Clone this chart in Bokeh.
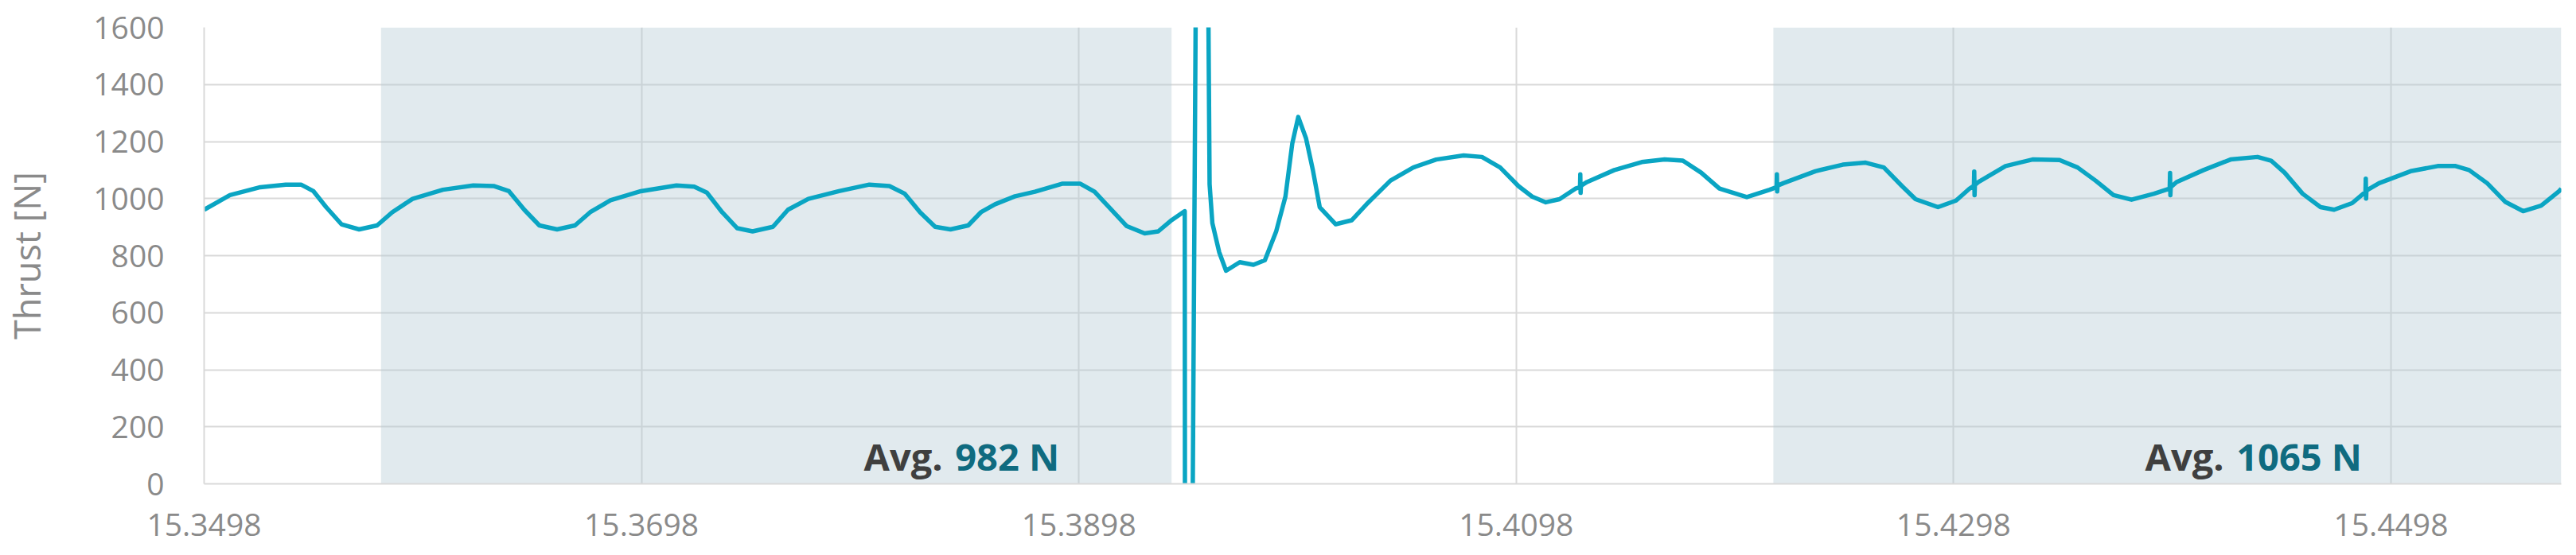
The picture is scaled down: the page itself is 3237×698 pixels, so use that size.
import math
from bokeh.plotting import figure
from bokeh.models import FixedTicker, PrintfTickFormatter, Range1d
from bokeh.core.properties import value
from bokeh.embed import file_html
from bokeh.resources import INLINE

# ---- data ----
time_s = [
    15.34980, 15.35098, 15.35237, 15.35353, 15.35423, 15.35480, 15.35538, 15.35608, 15.35689, 15.35771,
    15.35840, 15.35933, 15.36072, 15.36211, 15.36304, 15.36374, 15.36444, 15.36513, 15.36594, 15.36676,
    15.36745, 15.36838, 15.36977, 15.37140, 15.37221, 15.37279, 15.37349, 15.37418, 15.37488, 15.37581,
    15.37650, 15.37743, 15.37883, 15.38022, 15.38114, 15.38184, 15.38254, 15.38323, 15.38393, 15.38474,
    15.38532, 15.38597, 15.38688, 15.38779, 15.38903, 15.38987, 15.39052, 15.39114, 15.39198, 15.39281,
    15.39343, 15.39405, 15.394643, 15.394669, 15.394851, 15.395251, 15.395600, 15.395779, 15.395906, 15.396219,
    15.396532, 15.397158, 15.397784, 15.398308, 15.398828, 15.399247, 15.399560, 15.399833, 15.400186, 15.400502,
    15.400815, 15.401547, 15.402275, 15.403006, 15.404050, 15.405095, 15.406143, 15.407395, 15.408232, 15.409065,
    15.409902, 15.410528, 15.411154, 15.411780, 15.412511, 15.412718, 15.412730, 15.412745, 15.412760, 15.413035,
    15.414287, 15.415542, 15.416587, 15.417420, 15.418257, 15.419094, 15.420346, 15.421390, 15.421707, 15.421720,
    15.421735, 15.421750, 15.422016, 15.423479, 15.424734, 15.425779, 15.426612, 15.427442, 15.428061, 15.429087,
    15.429913, 15.430528, 15.430732, 15.430745, 15.430760, 15.430775, 15.430939, 15.432176, 15.433410, 15.434647,
    15.435470, 15.436292, 15.437114, 15.437937, 15.438967, 15.439684, 15.439700, 15.439715, 15.439730, 15.439997,
    15.441234, 15.442468, 15.443701, 15.444320, 15.444938, 15.445761, 15.446583, 15.447202, 15.448024, 15.448537,
    15.448636, 15.448650, 15.448665, 15.448680, 15.449258, 15.450699, 15.451936, 15.452759, 15.453374, 15.454200,
    15.455022, 15.455845, 15.456667, 15.457493, 15.457590,
]
thrust_n = [
    961, 1012, 1040, 1049, 1049, 1026, 970, 910, 892, 906,
    952, 999, 1031, 1046, 1044, 1026, 961, 906, 892, 906,
    952, 994, 1026, 1046, 1042, 1021, 952, 896, 885, 901,
    961, 999, 1026, 1049, 1044, 1017, 952, 901, 892, 906,
    952, 980, 1008, 1024, 1052, 1052, 1024, 973, 904, 878,
    885, 925, 956, -2000, -2000, 3000, 3000, 1050, 914, 812,
    747, 777, 768, 784, 886, 1007, 1193, 1286, 1212, 1100,
    970, 910, 924, 984, 1063, 1109, 1137, 1151, 1146, 1109,
    1044, 1007, 987, 998, 1035, 1040, 1085, 1020, 1045, 1058,
    1100, 1128, 1137, 1133, 1091, 1035, 1005, 1031, 1040, 1085,
    1025, 1045, 1054, 1096, 1119, 1126, 1109, 1044, 998, 970,
    993, 1035, 1045, 1095, 1012, 1048, 1058, 1114, 1137, 1135,
    1109, 1063, 1012, 996, 1017, 1035, 1090, 1012, 1040, 1058,
    1100, 1137, 1146, 1133, 1091, 1017, 970, 961, 984, 1017,
    1022, 1070, 1000, 1028, 1054, 1096, 1114, 1114, 1100, 1054,
    989, 956, 975, 1026, 1035,
]

shade_start = [15.35789, 15.42156]
shade_end = [15.39404, 15.45759]
avg_values = [982, 1065]

x_ticks = [15.3498, 15.3698, 15.3898, 15.4098, 15.4298, 15.4498]
y_ticks = [0, 200, 400, 600, 800, 1000, 1200, 1400, 1600]
x_min, x_max = 15.3498, 15.45759
y_min, y_max = 0, 1600

# ---- figure ----
FONT = "Open Sans"
GRID = "#d9d9d9"
TICK_COLOR = "#8a8a8a"

p = figure(
    width=3229, height=692,
    output_backend="svg", toolbar_location=None,
    x_range=Range1d(x_min, x_max), y_range=Range1d(y_min, y_max),
    min_border_left=256, min_border_right=11, min_border_top=34, min_border_bottom=84,
)
p.outline_line_color = None
p.background_fill_color = "white"
p.border_fill_color = "white"

# shaded averaging windows
p.quad(left=shade_start, right=shade_end, bottom=y_min, top=y_max,
       fill_color="#b4cbd5", fill_alpha=0.4, line_color=None)

# thrust trace
p.line(time_s, thrust_n, line_color="#0aa5c3", line_width=5.5, line_join="round")

# average labels
lab_y = [95, 95]
p.text(x=[15.37997, 15.43856], y=lab_y, text=["Avg.", "Avg."],
       text_font=value(FONT), text_font_style="bold", text_font_size="47px",
       text_color="#3f3f3f", text_align="left", text_baseline="alphabetic")
p.text(x=[15.38414, 15.44273], y=lab_y, text=[f"{v} N" for v in avg_values],
       text_font=value(FONT), text_font_style="bold", text_font_size="47px",
       text_color="#0f6b80", text_align="left", text_baseline="alphabetic")

# axes
p.xaxis.ticker = FixedTicker(ticks=x_ticks)
p.xgrid.ticker = FixedTicker(ticks=x_ticks)
p.yaxis.ticker = FixedTicker(ticks=y_ticks)
p.ygrid.ticker = FixedTicker(ticks=y_ticks)
p.xaxis.formatter = PrintfTickFormatter(format="%.4f")

for ax in (p.xaxis, p.yaxis):
    ax.axis_line_color = GRID
    ax.axis_line_width = 2
    ax.major_tick_line_color = None
    ax.minor_tick_line_color = None
    ax.major_label_text_font = FONT
    ax.major_label_text_font_size = "39px"
    ax.major_label_text_color = TICK_COLOR
p.xaxis.major_label_standoff = 31
p.yaxis.major_label_standoff = 44

p.yaxis.axis_label = "Thrust [N]"
p.yaxis.axis_label_standoff = 50
p.yaxis.axis_label_text_font = FONT
p.yaxis.axis_label_text_font_size = "45px"
p.yaxis.axis_label_text_font_style = "normal"
p.yaxis.axis_label_text_color = TICK_COLOR

for g in (p.xgrid, p.ygrid):
    g.grid_line_color = GRID
    g.grid_line_width = 2

open("out.html", "w").write(file_html(p, INLINE))
